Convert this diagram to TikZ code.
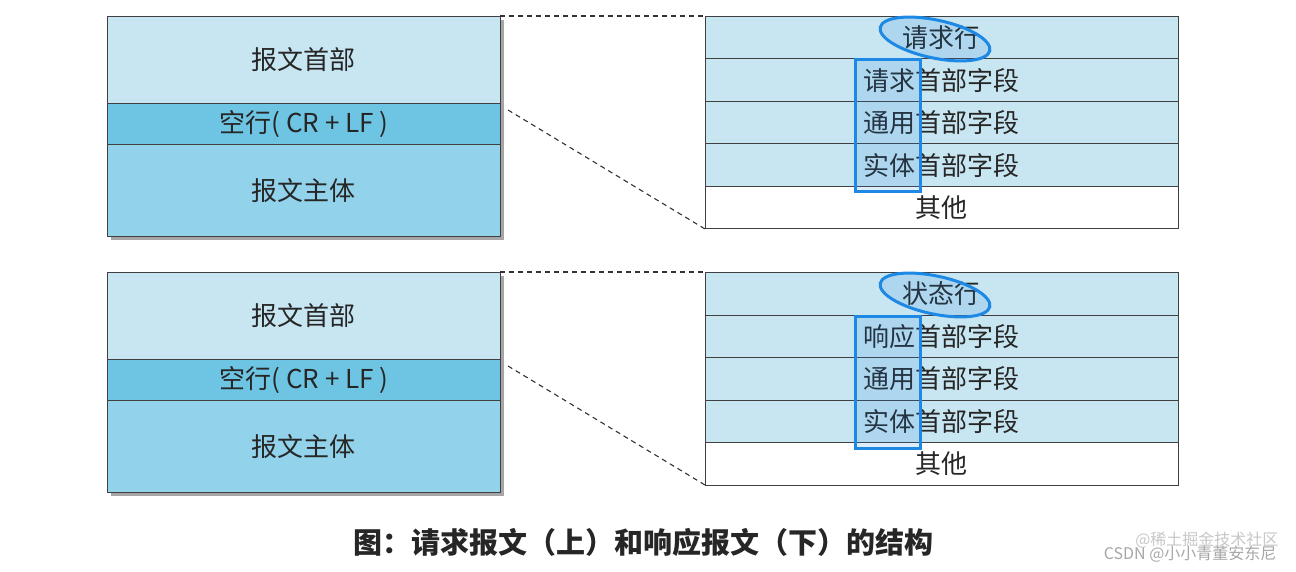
\documentclass[tikz,border=0pt]{standalone}
\usepackage{fontspec}
\setmainfont{Noto Sans CJK SC}
\begin{document}
\begin{tikzpicture}[x=1pt,y=-1pt,
  lt/.style={draw=black!75,line width=0.8pt,fill=cLight},
  cell/.style={font=\fontsize{26}{26}\selectfont,text=black!85},
  dsh/.style={dash pattern=on 5pt off 4pt,line width=1.1pt,black!80},
  hl/.style={draw=cBlue,line width=3pt,fill=cBlue,fill opacity=0.15}]
\definecolor{cLight}{HTML}{C8E6F1}
\definecolor{cMid}{HTML}{6EC5E3}
\definecolor{cDark}{HTML}{92D2EA}
\definecolor{cBlue}{HTML}{1E88E5}
\useasboundingbox (0,0) rectangle (1296,572);
\foreach \t/\n in {16/a,272/b}{
  \fill[black!35] (111,\t+4) rectangle (504,\t+224);
  \node[lt,minimum width=393pt,minimum height=87pt,anchor=north west,inner sep=0,cell] (\n h) at (107,\t) {报文首部};
  \node[lt,fill=cMid,minimum width=393pt,minimum height=41pt,anchor=north west,inner sep=0,cell] (\n e) at (107,\t+87) {空行( CR + LF )};
  \node[lt,fill=cDark,minimum width=393pt,minimum height=92pt,anchor=north west,inner sep=0,cell] (\n b) at (107,\t+128) {报文主体};
  \coordinate (\n p1) at (500,\t);
  \coordinate (\n p2) at (508,\t+94);
  \coordinate (\n q1) at (705,\t);
  \coordinate (\n q2) at (705,\t+213);
  \draw[dsh] (\n p1) -- (\n q1);
  \draw[dsh] (\n p2) -- (\n q2);
}
\foreach \t/\n/\f/\g in {16/a/请求行/请求,272/b/状态行/响应}{
  \node[lt,minimum width=473pt,minimum height=42.5pt,anchor=north west,inner sep=0,cell] (\n r1) at (705,\t) {\f};
  \node[lt,minimum width=473pt,minimum height=42.5pt,anchor=north west,inner sep=0,cell] (\n r2) at (705,\t+42.5) {\g 首部字段};
  \node[lt,minimum width=473pt,minimum height=42.5pt,anchor=north west,inner sep=0,cell] (\n r3) at (705,\t+85) {通用首部字段};
  \node[lt,minimum width=473pt,minimum height=42.5pt,anchor=north west,inner sep=0,cell] (\n r4) at (705,\t+127.5) {实体首部字段};
  \node[lt,fill=white,minimum width=473pt,minimum height=42.5pt,anchor=north west,inner sep=0,cell] (\n r5) at (705,\t+170) {其他};
  \draw[hl] (935,\t+23) ellipse [x radius=56,y radius=19,rotate=-12];
  \draw[hl] (855,\t+44) rectangle (920,\t+176);
}
\node[font=\fontsize{29}{29}\selectfont\bfseries,text=black!85] (cap) at (643,542) {图：请求报文（上）和响应报文（下）的结构};
\node[font=\fontsize{16}{16}\selectfont,text=black!35,anchor=east] (wm) at (1280,554) {CSDN @小小青董安东尼};
\node[font=\fontsize{16}{16}\selectfont,text=black!22,anchor=east] (wm2) at (1282,540) {@稀土掘金技术社区};
\end{tikzpicture}
\end{document}
